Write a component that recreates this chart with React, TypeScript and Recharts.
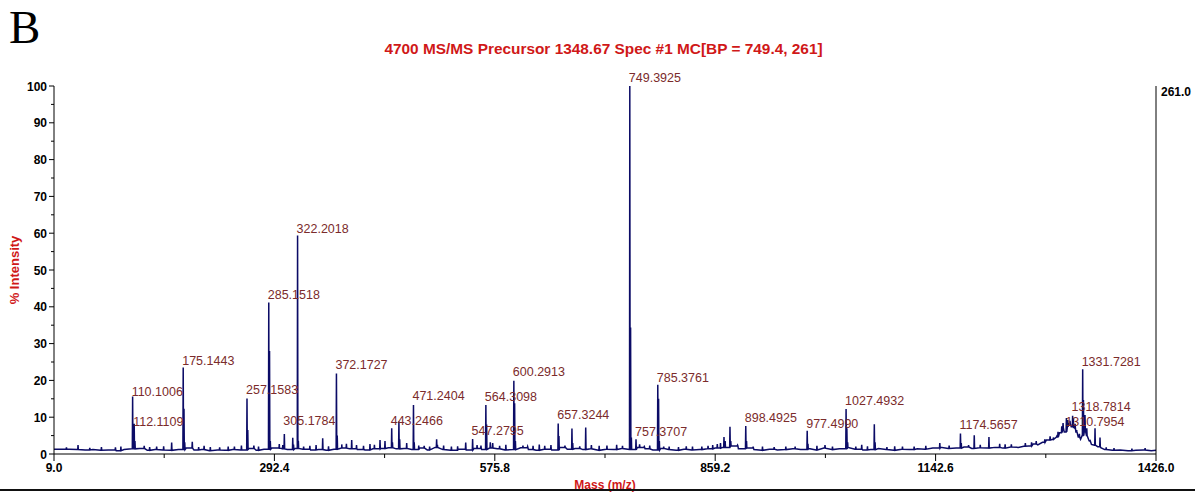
import React from "react";
import { ComposedChart, Line, Scatter, XAxis, YAxis } from "recharts";

const FONT = "'Liberation Sans', Arial, Helvetica, sans-serif";
const RED = "#d01818";
const LABEL_RED = "#7b2b2b";
const NAVY = "#0b0b66";

// axis ticks
const xMajor = [9.0, 292.4, 575.8, 859.2, 1142.6, 1426.0];
const xMinor = [150.7, 434.1, 717.5, 1000.9, 1284.3];
const yMajor = [0, 10, 20, 30, 40, 50, 60, 70, 80, 90, 100];
const yMinor = [5, 15, 25, 35, 45, 55, 65, 75, 85, 95];

// noise floor [m/z, % intensity]
const baseline: [number, number][] = [
  [9, 1.3], [19, 1.3], [29, 1.3], [39, 1.2], [49, 1.1], [59, 1.2], [69, 1.0], [79, 1.1], [89, 0.9], [99, 1.2],
  [109, 1.4], [119, 1.5], [129, 1.0], [139, 1.2], [149, 1.1], [159, 1.0], [169, 1.2], [179, 1.6], [189, 1.1], [199, 1.2],
  [209, 0.9], [219, 1.1], [229, 1.0], [239, 1.2], [249, 1.1], [259, 1.5], [269, 1.0], [279, 1.3], [289, 1.6], [299, 1.4],
  [309, 1.2], [319, 1.5], [329, 1.3], [339, 1.1], [349, 1.2], [359, 1.0], [369, 1.3], [379, 1.6], [389, 1.4], [399, 1.2],
  [409, 1.1], [419, 1.4], [429, 1.5], [439, 1.7], [449, 1.4], [459, 1.5], [469, 1.2], [479, 1.6], [489, 1.1], [499, 1.8],
  [509, 1.2], [519, 1.0], [529, 1.3], [539, 1.1], [549, 1.5], [559, 1.2], [569, 1.6], [579, 1.4], [589, 1.1], [599, 1.2],
  [609, 1.7], [619, 1.2], [629, 1.0], [639, 1.3], [649, 1.1], [659, 1.8], [669, 1.3], [679, 1.5], [689, 1.2], [699, 1.4],
  [709, 1.0], [719, 1.3], [729, 1.2], [739, 1.5], [749, 1.2], [759, 1.8], [769, 1.4], [779, 1.1], [789, 1.5], [799, 1.2],
  [809, 1.0], [819, 1.3], [829, 1.1], [839, 1.2], [849, 1.4], [859, 1.6], [869, 1.8], [879, 2.2], [889, 1.4], [899, 1.6],
  [909, 1.2], [919, 1.0], [929, 1.3], [939, 1.1], [949, 1.2], [959, 1.4], [969, 1.2], [979, 1.5], [989, 1.1], [999, 1.6],
  [1009, 1.2], [1019, 1.4], [1029, 1.8], [1039, 1.3], [1049, 1.1], [1059, 1.2], [1069, 1.5], [1079, 1.2], [1089, 1.0], [1099, 1.3],
  [1109, 1.2], [1119, 1.4], [1129, 1.3], [1139, 1.6], [1149, 1.8], [1159, 1.5], [1169, 1.6], [1179, 1.9], [1189, 1.5], [1199, 1.7],
  [1209, 1.6], [1219, 1.8], [1229, 1.6], [1239, 1.9], [1249, 1.8],
  [1256, 2.1], [1262, 2.2], [1268, 2.7], [1274, 2.5], [1280, 3.2], [1285, 3.8], [1290, 4.6], [1294, 4.0], [1298, 4.6],
  [1302, 5.8], [1305, 7.0], [1308, 6.0], [1311, 7.4], [1314, 8.2], [1317, 7.4], [1320, 7.0], [1323, 6.0], [1326, 4.6],
  [1329, 4.0], [1331, 5.0], [1334, 6.5], [1337, 5.0], [1340, 3.6], [1343, 2.6], [1347, 2.4], [1351, 2.0], [1355, 1.7],
  [1360, 1.2], [1370, 1.0], [1380, 1.1], [1390, 0.9], [1400, 1.0], [1410, 1.1], [1420, 0.9], [1426, 1.0],
];

// centroid sticks [m/z, % intensity]
const peaks: [number, number][] = [
  [25, 1.8], [39.9, 2.4], [55, 1.7], [70, 1.9], [88, 1.8], [95, 2.0],
  [110.1006, 15.6], [111.1, 5.0], [112.1109, 8.2], [113.1, 3.5], [125, 2.2], [132, 1.9], [141, 2.0], [150, 2.1],
  [160.3, 3.1], [175.1443, 23.5], [176.15, 12.3], [177.1, 3.2], [186.8, 3.3], [195, 1.9], [202, 2.2],
  [210, 1.9], [222, 1.8], [233, 2.0], [241, 2.0], [250, 2.3], [257.1583, 15.1], [258.16, 6.5], [266, 2.3],
  [272, 2.0], [285.1518, 41.2], [286.15, 28.0], [287.15, 3.5], [298.7, 2.7], [303.2, 2.4], [305.1784, 5.4],
  [316.0, 4.4], [317, 2.6], [322.2018, 59.4], [323.2, 3.6], [330, 2.0], [338, 2.2], [346, 2.4], [354.5, 4.3],
  [362, 2.1], [372.1727, 21.9], [373.2, 5.0], [379, 2.6], [385, 2.8], [391.8, 3.8], [398, 2.4], [407, 2.2],
  [415.3, 2.7], [421, 2.5], [428.2, 3.8], [434.6, 3.5], [443.2466, 7.0], [444.2, 3.2], [452.5, 8.8],
  [453.5, 4.0], [462.5, 3.0], [471.2404, 13.3], [472.2, 3.2], [478, 2.3], [485, 2.2], [492, 2.0], [501, 4.0],
  [502, 2.5], [510, 2.3], [520, 2.0], [528, 2.1], [538.4, 3.1], [547.2795, 4.1], [553, 2.4], [558, 2.3],
  [564.3098, 13.3], [565.3, 8.0], [570, 3.2], [573.1, 3.0], [582, 2.2], [590, 2.5], [600.2913, 19.9],
  [601.3, 13.8], [602.3, 3.5], [612, 2.3], [618, 2.0], [625, 2.2], [633, 2.6], [640, 2.2], [648, 2.4],
  [657.3244, 8.3], [658.3, 4.9], [666, 2.3], [675, 6.9], [676, 3.0], [685, 2.1], [692.7, 7.2], [700, 2.4],
  [710, 2.2], [720, 2.3], [732.5, 2.5], [740, 2.2], [749.3925, 100], [750.4, 34.4], [751.4, 4.5],
  [757.3707, 4.0], [762, 2.6], [768, 2.0], [775, 2.3], [785.3761, 18.8], [786.4, 15.0], [787.4, 3.5],
  [793, 2.0], [800, 2.0], [812, 1.9], [822, 2.1], [830, 2.0], [842, 2.0], [850, 2.2], [856, 2.4],
  [861.9, 2.7], [866, 3.0], [870.5, 4.6], [872, 3.5], [878.2, 7.4], [879.2, 3.5], [888, 2.4],
  [898.4925, 7.6], [899.5, 3.5], [908, 2.0], [920, 2.0], [935, 1.9], [950, 2.0], [962, 2.0],
  [977.499, 6.3], [978.5, 2.8], [990, 2.2], [1000.4, 2.4], [1010, 2.0], [1027.4932, 12.2], [1028.5, 7.0],
  [1029.5, 3.2], [1040, 2.0], [1047.6, 2.5], [1055, 2.1], [1063.8, 8.1], [1064.8, 3.2], [1080, 1.9],
  [1090, 2.1], [1100, 2.0], [1115, 2.0], [1130, 2.2], [1148, 3.0], [1160, 2.3], [1174.5657, 5.6],
  [1175.6, 3.0], [1185, 2.4], [1192.3, 5.1], [1200, 2.5], [1211.2, 4.6], [1225, 2.8], [1232, 2.6],
  [1240, 2.6], [1258, 3.0], [1266, 3.2], [1272, 3.5], [1283, 4.0], [1289.8, 4.8], [1294, 4.5],
  [1298.4, 4.8], [1300, 6.0], [1304.8, 7.5], [1306.5, 8.4], [1310.7954, 9.8], [1312.5, 9.2], [1315.4, 9.0],
  [1318.7814, 10.4], [1319.8, 9.7], [1322, 8.2], [1324, 6.5], [1327.5, 5.5], [1331.7281, 23.0],
  [1332.7, 14.7], [1334.7, 10.6], [1337, 7.0], [1341, 3.5], [1347.6, 7.0], [1354, 4.5], [1362, 1.8],
  [1372, 1.6], [1395, 1.5], [1412, 1.6],
];

// peak annotations: text, m/z, height where the text sits
const labelText = [
  "110.1006", "112.1109", "175.1443", "257.1583", "285.1518", "305.1784", "322.2018", "372.1727",
  "443.2466", "471.2404", "547.2795", "564.3098", "600.2913", "657.3244", "749.3925", "757.3707",
  "785.3761", "898.4925", "977.4990", "1027.4932", "1174.5657", "1310.7954", "1318.7814", "1331.7281",
];
const labelHeight = [
  14.8, 6.4, 23.2, 15.1, 40.9, 6.9, 59.1, 21.9,
  6.7, 13.5, 4.2, 13.2, 20.0, 8.3, 100, 3.9,
  18.6, 7.5, 6.1, 12.1, 5.6, 6.4, 10.7, 22.7,
];

const footAt = (mz: number) => {
  let v = baseline[0][1];
  for (const [m, b] of baseline) {
    if (m <= mz) v = b;
    else break;
  }
  return v;
};

const spectrum = [
  ...baseline.map(([mz, y]) => ({ mz, y })),
  ...peaks.flatMap(([mz, h]) => {
    const f = footAt(mz);
    return [
      { mz: mz - 0.4, y: f },
      { mz, y: h },
      { mz: mz + 0.4, y: f },
    ];
  }),
].sort((a, b) => a.mz - b.mz);

const labelData = labelText.map((t, i) => ({ mz: parseFloat(t), v: labelHeight[i], text: t }));

function XTick(props: any) {
  const { x, y, payload } = props;
  const major = xMajor.includes(payload.value);
  return (
    <g>
      <line x1={x} y1={y} x2={x} y2={y + (major ? 7 : 4)} stroke="#000" strokeWidth={1} />
      {major && (
        <text x={x} y={y + 18} textAnchor="middle" fontFamily={FONT} fontSize={12} fontWeight="bold" fill="#000">
          {payload.value.toFixed(1)}
        </text>
      )}
    </g>
  );
}

function YTick(props: any) {
  const { x, y, payload } = props;
  const major = yMajor.includes(payload.value);
  return (
    <g>
      <line x1={x - (major ? 5 : 3)} y1={y} x2={x} y2={y} stroke="#000" strokeWidth={1} />
      {major && (
        <text x={x - 7} y={y + 4.5} textAnchor="end" fontFamily={FONT} fontSize={12} fontWeight="bold" fill="#000">
          {payload.value}
        </text>
      )}
    </g>
  );
}

function RightTick(props: any) {
  const { x, y } = props;
  return (
    <text x={x + 5} y={y + 10} textAnchor="start" fontFamily={FONT} fontSize={12} fontWeight="bold" fill="#000">
      261.0
    </text>
  );
}

function PeakLabel(props: any) {
  const { cx, cy, payload } = props;
  return (
    <text x={cx - 1} y={cy - 4} textAnchor="start" fontFamily={FONT} fontSize={12.5} fill={LABEL_RED}>
      {payload.text}
    </text>
  );
}

export default function App() {
  return (
    <div
      style={{
        position: "fixed",
        left: 0,
        top: 0,
        width: 1195,
        height: 495,
        background: "#fff",
        overflow: "hidden",
      }}
    >
      <div
        style={{
          position: "absolute",
          left: 9,
          top: 1,
          fontFamily: "'Liberation Serif', 'Times New Roman', serif",
          fontSize: 47,
          lineHeight: "52px",
          color: "#000",
        }}
      >
        B
      </div>
      <div
        style={{
          position: "absolute",
          left: 0,
          width: 1207,
          top: 39,
          textAlign: "center",
          fontFamily: FONT,
          fontSize: 15.4,
          fontWeight: "bold",
          lineHeight: "20px",
          color: RED,
        }}
      >
        4700 MS/MS Precursor 1348.67 Spec #1 MC[BP = 749.4, 261]
      </div>

      <ComposedChart
        width={1195}
        height={495}
        margin={{ top: 86, right: 0, left: 0, bottom: 0 }}
        style={{ position: "absolute", left: 0, top: 0 }}
      >
        <XAxis
          dataKey="mz"
          type="number"
          domain={[9, 1426]}
          ticks={[...xMajor, ...xMinor].sort((a, b) => a - b)}
          interval={0}
          height={41}
          tickSize={0}
          tickMargin={0}
          tickLine={false}
          axisLine={{ stroke: "#000", strokeWidth: 1 }}
          tick={<XTick />}
        />
        <YAxis
          type="number"
          domain={[0, 100]}
          ticks={[...yMajor, ...yMinor].sort((a, b) => a - b)}
          interval={0}
          width={54}
          tickSize={0}
          tickMargin={0}
          tickLine={false}
          axisLine={{ stroke: "#000", strokeWidth: 1 }}
          tick={<YTick />}
        />
        <YAxis
          yAxisId="r"
          orientation="right"
          type="number"
          domain={[0, 261]}
          allowDataOverflow
          ticks={[261]}
          interval={0}
          width={39}
          tickSize={0}
          tickMargin={0}
          tickLine={false}
          axisLine={{ stroke: "#000", strokeWidth: 1 }}
          tick={<RightTick />}
        />
        <Line
          data={spectrum}
          dataKey="y"
          type="linear"
          stroke={NAVY}
          strokeWidth={1.5}
          dot={false}
          activeDot={false}
          isAnimationActive={false}
        />
        <Scatter data={labelData} dataKey="v" shape={<PeakLabel />} isAnimationActive={false} />
      </ComposedChart>

      <div
        style={{
          position: "absolute",
          left: 2,
          top: 270,
          transform: "translate(-50%, -50%) rotate(-90deg)",
          transformOrigin: "center",
          marginLeft: 12,
          whiteSpace: "nowrap",
          fontFamily: FONT,
          fontSize: 13,
          fontWeight: "bold",
          color: RED,
        }}
      >
        % Intensity
      </div>
      <div
        style={{
          position: "absolute",
          left: 0,
          width: 1210,
          top: 478,
          textAlign: "center",
          fontFamily: FONT,
          fontSize: 12,
          fontWeight: "bold",
          lineHeight: "15px",
          color: RED,
        }}
      >
        Mass (m/z)
      </div>
      <div
        style={{
          position: "absolute",
          left: 0,
          top: 489,
          width: 1195,
          height: 2,
          background: "#111",
        }}
      />
    </div>
  );
}
